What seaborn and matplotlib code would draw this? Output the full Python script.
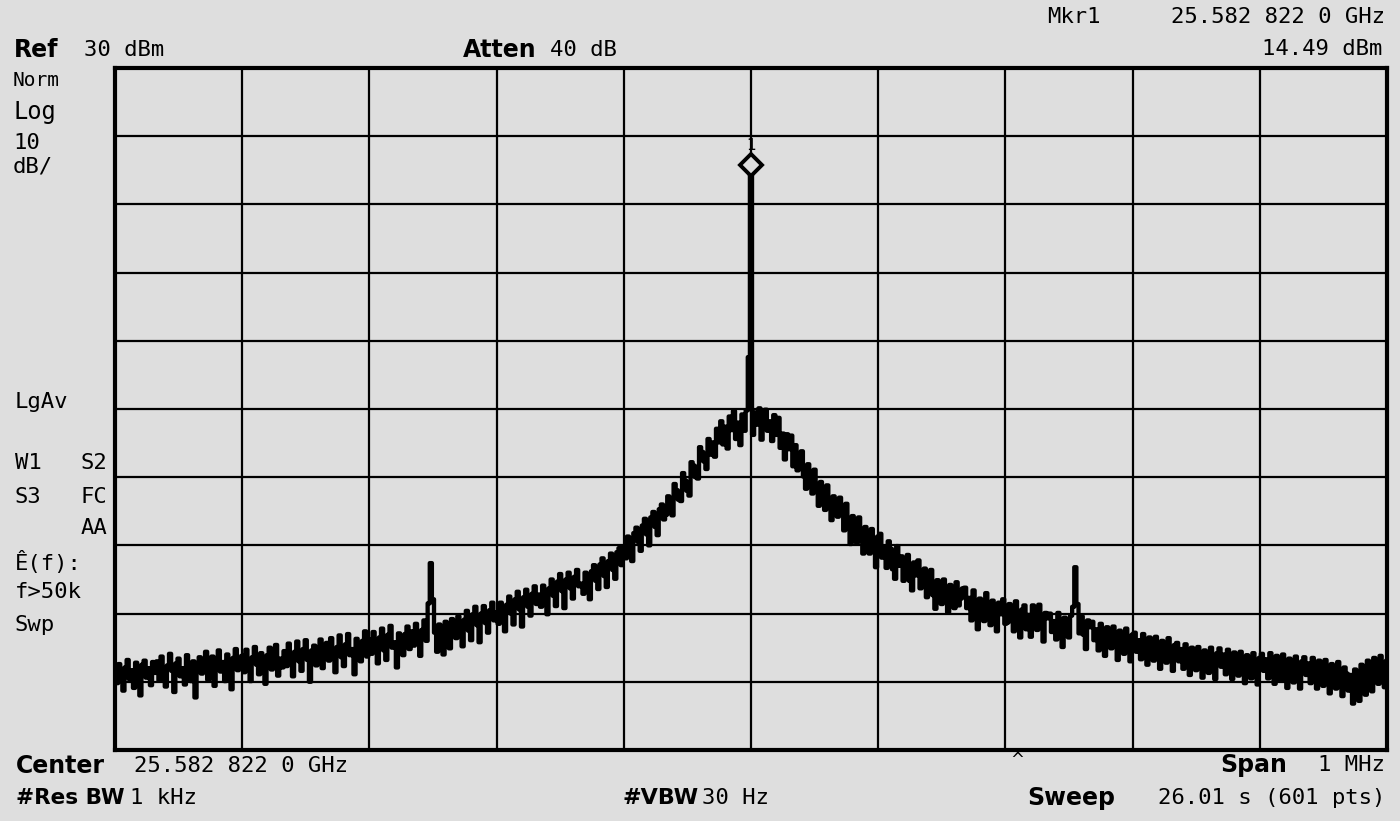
import numpy as np
import pandas as pd
import seaborn as sns
import matplotlib.pyplot as plt
from matplotlib.transforms import offset_copy

sns.set_theme(style="white")
plt.rcParams['font.family'] = ['DejaVu Sans']

# spectrum analyzer readings (dBm), 601 sweep points across the 1 MHz span
level_left = [
    -58.1, -60.2, -57.4, -59.0, -61.3, -57.9, -56.8, -59.6, -58.3, -60.9, -57.2, -58.8, -62.0, -57.5, -56.9, -59.4, -58.0, -60.5, -57.1, -58.7,
    -57.0, -59.8, -56.3, -58.9, -60.7, -57.6, -55.9, -58.4, -61.5, -57.3, -56.6, -59.2, -58.0, -60.4, -56.1, -57.8, -59.9, -57.0, -62.3, -57.5,
    -56.4, -58.8, -57.2, -55.6, -59.7, -57.9, -56.3, -60.6, -56.8, -55.4, -58.5, -57.1, -59.9, -56.0, -57.6, -61.1, -56.5, -55.2, -58.3, -57.4,
    -56.2, -58.6, -55.3, -57.8, -59.9, -56.4, -54.9, -57.5, -58.9, -55.8, -56.9, -60.3, -56.1, -55.0, -58.2, -57.3, -54.6, -59.1, -56.6, -57.9,
    -55.5, -57.7, -54.4, -56.9, -59.2, -55.6, -54.1, -57.0, -58.4, -55.2, -53.9, -56.8, -60.0, -55.4, -54.7, -57.6, -56.1, -53.8, -58.0, -55.9,
    -54.3, -56.9, -53.6, -55.8, -58.6, -54.9, -53.2, -56.4, -57.7, -54.5, -53.0, -56.1, -55.2, -58.9, -53.7, -55.5, -57.0, -54.0, -52.6, -56.3,
    -53.8, -55.9, -52.7, -54.9, -57.3, -53.5, -52.2, -55.4, -56.8, -53.1, -51.8, -55.0, -54.2, -57.9, -52.9, -54.6, -56.1, -53.0, -51.9, -55.2,
    -52.6, -54.7, -51.5, -53.8, -56.2, -52.4, -51.0, -54.0, -48.5, -42.6, -47.9, -52.8, -55.6, -51.6, -53.7, -56.0, -51.2, -52.9, -55.1, -50.8,
    -51.9, -53.6, -50.4, -52.2, -54.8, -50.9, -49.6, -52.5, -53.9, -50.1, -49.0, -51.7, -54.2, -50.0, -48.9, -51.4, -52.8, -49.5, -48.4, -51.0,
    -49.8, -51.5, -48.4, -50.2, -52.6, -48.7, -47.5, -50.0, -51.6, -47.9, -46.8, -49.4, -51.9, -47.6, -46.5, -49.0, -50.3, -47.1, -46.0, -48.6,
    -47.2, -49.0, -45.9, -47.6, -50.1, -46.3, -45.0, -47.4, -48.9, -45.3, -44.2, -46.7, -49.2, -45.0, -44.0, -46.3, -47.8, -44.6, -43.6, -46.0,
    -45.6, -47.1, -44.0, -45.5, -47.9, -43.8, -42.9, -45.2, -46.4, -42.8, -41.9, -44.5, -46.1, -42.3, -41.2, -43.6, -44.9, -41.0, -40.4, -42.9,
    -40.4, -41.9, -38.7, -40.0, -42.3, -38.2, -37.4, -39.5, -40.8, -37.1, -36.1, -38.4, -40.0, -35.9, -35.1, -37.3, -38.5, -34.7, -34.0, -36.2,
    -35.5, -32.8, -34.0, -35.6, -31.0, -31.9, -33.3, -33.5, -29.4, -30.5, -32.0, -32.7, -27.8, -28.3, -30.0, -30.2, -25.6, -26.3, -27.7, -28.8,
    -24.4, -26.7, -24.9, -27.0, -22.9, -24.9, -21.8, -25.2, -22.6, -25.8, -21.1, -23.1, -20.3, -24.4, -22.0, -25.3, -20.8, -23.2, -20.2, -12.4,
]
carrier = [14.49]
level_right = [
    -23.8, -20.5, -22.3, -19.9, -24.5, -20.9, -20.1, -23.2, -21.8, -24.7, -20.9, -23.8, -21.3, -25.7, -23.6, -27.4, -23.7, -25.9, -23.9, -28.4,
    -25.3, -29.0, -27.1, -26.2, -29.9, -31.7, -28.1, -30.0, -32.4, -28.9, -32.1, -34.2, -30.7, -32.1, -34.8, -31.2, -34.2, -36.3, -32.8, -33.7,
    -35.8, -33.0, -34.9, -37.8, -33.9, -37.0, -39.8, -35.7, -36.8, -39.6, -35.9, -38.6, -41.2, -37.3, -38.9, -41.2, -37.6, -40.7, -43.2, -38.7,
    -38.3, -41.8, -40.2, -43.3, -39.4, -40.5, -43.5, -44.9, -40.1, -43.0, -41.6, -45.2, -42.3, -41.4, -45.2, -46.6, -42.5, -44.4, -42.2, -46.3,
    -45.6, -43.4, -47.6, -44.7, -43.6, -47.3, -49.3, -45.1, -46.1, -48.6, -45.0, -47.6, -49.8, -45.8, -46.8, -49.2, -45.4, -48.8, -47.8, -46.3,
    -46.2, -49.2, -47.7, -51.0, -46.6, -49.1, -52.3, -47.8, -48.9, -51.1, -47.0, -50.2, -51.7, -48.1, -49.0, -52.6, -48.4, -50.1, -47.9, -51.5,
    -51.3, -48.6, -49.9, -52.6, -48.2, -50.9, -53.5, -49.4, -48.8, -52.3, -50.2, -53.4, -48.8, -51.0, -52.4, -48.7, -51.9, -54.1, -49.9, -50.7,
    -50.0, -52.7, -51.1, -53.8, -49.9, -52.2, -54.9, -50.6, -51.4, -53.5, -50.3, -49.0, -43.2, -48.6, -52.9, -50.4, -53.1, -55.2, -51.0, -52.0,
    -51.2, -53.9, -52.3, -55.4, -51.5, -53.6, -56.2, -52.0, -52.8, -55.1, -51.9, -54.7, -56.8, -52.5, -53.3, -55.9, -52.2, -54.4, -57.0, -53.1,
    -52.8, -55.6, -53.9, -56.7, -53.0, -54.8, -57.5, -53.5, -54.2, -56.9, -53.4, -55.7, -58.1, -54.0, -54.9, -57.2, -53.6, -55.9, -58.4, -54.6,
    -54.3, -57.0, -55.2, -58.1, -54.5, -56.3, -59.0, -55.0, -55.8, -58.3, -54.9, -57.2, -59.4, -55.4, -56.1, -58.7, -55.0, -57.3, -59.6, -55.8,
    -55.1, -57.8, -56.0, -58.9, -55.3, -57.0, -59.6, -55.7, -56.5, -59.1, -55.6, -57.9, -60.2, -56.1, -56.9, -59.5, -55.8, -58.0, -60.4, -56.5,
    -55.9, -58.4, -56.7, -59.5, -55.8, -57.6, -60.3, -56.2, -57.1, -59.8, -56.0, -58.5, -60.9, -56.6, -57.3, -60.1, -56.3, -58.7, -61.0, -57.0,
    -56.4, -59.0, -57.3, -60.2, -56.5, -58.2, -61.0, -56.9, -57.8, -60.6, -56.8, -59.2, -61.7, -57.4, -58.0, -61.0, -57.1, -59.5, -62.1, -57.9,
    -58.8, -61.3, -59.0, -63.2, -58.2, -60.4, -62.8, -57.5, -59.6, -61.9, -56.9, -58.7, -61.4, -56.5, -57.6, -60.3, -56.2, -58.4, -60.8, -56.9,
]

ref_level = 30      # dBm, top of screen
db_per_div = 10
span_khz = 1000

level = level_left + carrier + level_right
freq = np.linspace(-span_khz / 2, span_khz / 2, len(level))   # kHz from center
df = pd.DataFrame({'freq': freq, 'level': level})
peak = len(level_left)

bg = '#dedede'
fig = plt.figure(figsize=(14, 8.21), dpi=100, facecolor=bg)
ax = fig.add_axes([0.0821, 0.0865, 0.9086, 0.8307])
ax.set_facecolor(bg)

sns.lineplot(data=df, x='freq', y='level', ax=ax, color='black', lw=3.1,
             drawstyle='steps-mid', estimator=None, zorder=3)

# marker 1 diamond on the carrier
mk = offset_copy(ax.transData, fig=fig, x=0, y=6, units='points')
ax.plot([freq[peak]], [level[peak]], marker='D', ms=11, mfc=bg, mec='black',
        mew=2.8, transform=mk, zorder=4)
ax.annotate('1', xy=(freq[peak], level[peak]), xytext=(0, 20),
            textcoords='offset points', ha='center', va='center',
            fontsize=11, color='black', zorder=5)

ax.set_xlim(-span_khz / 2, span_khz / 2)
ax.set_ylim(ref_level - 10 * db_per_div, ref_level)
ax.set_xticks(np.arange(-500, 501, 100))
ax.set_yticks(np.arange(-70, 31, 10))
ax.grid(True, color='black', lw=1.6)
ax.tick_params(length=0, labelbottom=False, labelleft=False)
ax.set_xlabel('')
ax.set_ylabel('')
for s in ax.spines.values():
    s.set_color('black')
    s.set_linewidth(3)


def put(x, y, s, bold=False, ha='left', size=15, mono=False):
    fam = 'DejaVu Sans Mono' if mono else 'DejaVu Sans'
    fig.text(x / 1400, 1 - y / 821, s, ha=ha, va='center', fontsize=size,
             fontweight='bold' if bold else 'normal', family=fam, color='black')


# header
put(1047, 17, 'Mkr1', size=16, mono=True)
put(1385, 17, '25.582 822 0 GHz', ha='right', size=16, mono=True)
put(1382, 49, '14.49 dBm', ha='right', size=16, mono=True)
put(14, 50, 'Ref', bold=True, size=17)
put(84, 50, '30 dBm', size=16, mono=True)
put(463, 50, 'Atten', bold=True, size=17)
put(550, 50, '40 dB', size=16, mono=True)

# left annotations
put(13, 80, 'Norm', size=14, mono=True)
put(13, 112, 'Log', size=17, mono=True)
put(13, 143, '10', size=16, mono=True)
put(13, 166, 'dB/', size=16, mono=True)
put(15, 402, 'LgAv', size=16, mono=True)
put(15, 463, 'W1', size=16, mono=True)
put(107, 463, 'S2', ha='right', size=16, mono=True)
put(15, 497, 'S3', size=16, mono=True)
put(107, 497, 'FC', ha='right', size=16, mono=True)
put(107, 528, 'AA', ha='right', size=16, mono=True)
put(15, 562, 'Ê(f):', size=16, mono=True)
put(15, 592, 'f>50k', size=16, mono=True)
put(15, 625, 'Swp', size=16, mono=True)

# footer
put(16, 766, 'Center', bold=True, size=17)
put(134, 766, '25.582 822 0 GHz', size=16, mono=True)
put(16, 798, '#Res BW', bold=True, size=15.5)
put(130, 798, '1 kHz', size=16, mono=True)
put(622, 798, '#VBW', bold=True, size=16)
put(702, 798, '30 Hz', size=16, mono=True)
put(1017, 760, '^', ha='center', size=12)
put(1220, 765, 'Span', bold=True, size=17)
put(1385, 765, '1 MHz', ha='right', size=16, mono=True)
put(1027, 798, 'Sweep', bold=True, size=17)
put(1385, 798, '26.01 s (601 pts)', ha='right', size=16, mono=True)

fig.savefig('out.png', dpi=100, facecolor=bg)
